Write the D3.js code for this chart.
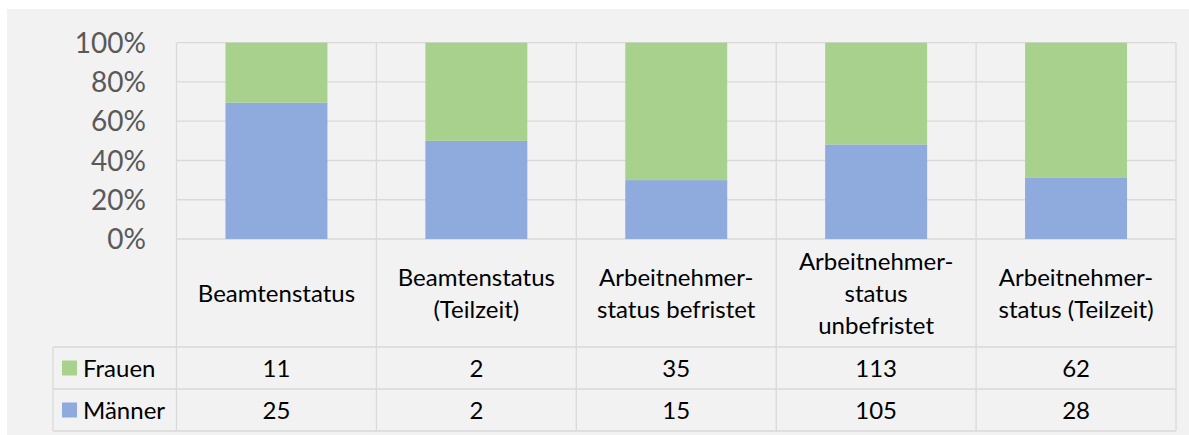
<!DOCTYPE html>
<html>
<head>
<meta charset="utf-8">
<script src="https://cdn.jsdelivr.net/npm/d3@7"></script>
<style>
  body { margin: 0; background: #fff; }
  svg text { font-family: Lato, "Open Sans", sans-serif; }
</style>
</head>
<body>
<svg id="chart" width="1189" height="435"></svg>
<script>
// data
var categories = [
    ["Beamtenstatus"],
    ["Beamtenstatus", "(Teilzeit)"],
    ["Arbeitnehmer-", "status befristet"],
    ["Arbeitnehmer-", "status", "unbefristet"],
    ["Arbeitnehmer-", "status (Teilzeit)"]
];
var seriesNames = ["Frauen", "Männer"];
var frauen = [11, 2, 35, 113, 62];
var maenner = [25, 2, 15, 105, 28];
var yTicks = [0, 0.2, 0.4, 0.6, 0.8, 1];
var colors = { "Männer": "#8faadc", "Frauen": "#a9d18e" };

var svg = d3.select("#chart");
var gridColor = "#d9d9d9";

// panel
svg.append("rect").attr("x", 7).attr("y", 9).attr("width", 1182).attr("height", 426).attr("fill", "#f2f2f2");

var plotL = 176.5, plotR = 1176, plotT = 42.7, plotB = 239;
var rowTop = 347, rowMid = 389, rowBottom = 431, legLeft = 53;
var fontSize = 24;

var x = d3.scaleBand().domain(d3.range(categories.length)).range([plotL, plotR]).paddingInner(0).paddingOuter(0);
var y = d3.scaleLinear().domain([0, 1]).range([plotB, plotT]);

var rows = categories.map(function (c, i) {
    return { idx: i, "Männer": maenner[i], "Frauen": frauen[i] };
});
var stack = d3.stack().keys(["Männer", "Frauen"]).offset(d3.stackOffsetExpand);
var layers = stack(rows);

// gridlines
svg.append("g").selectAll("line").data(yTicks).join("line")
    .attr("x1", plotL).attr("x2", plotR)
    .attr("y1", function (d) { return y(d); }).attr("y2", function (d) { return y(d); })
    .attr("stroke", gridColor).attr("stroke-width", 1.3);

// bars
var barW = x.bandwidth() * 0.51;
svg.append("g").selectAll("g").data(layers).join("g")
    .attr("fill", function (d) { return colors[d.key]; })
    .selectAll("rect").data(function (d) { return d; }).join("rect")
    .attr("x", function (d, i) { return x(i) + (x.bandwidth() - barW) / 2; })
    .attr("width", barW)
    .attr("y", function (d) { return y(d[1]); })
    .attr("height", function (d) { return y(d[0]) - y(d[1]); });

// y tick labels
svg.append("g").selectAll("text").data(yTicks).join("text")
    .attr("x", 146).attr("y", function (d) { return y(d); })
    .attr("dy", "0.36em")
    .attr("text-anchor", "end")
    .attr("font-size", 28).attr("fill", "#595959")
    .text(d3.format(".0%"));

// table lines
var tl = svg.append("g").attr("stroke", gridColor).attr("stroke-width", 1.3);
x.domain().concat([categories.length]).forEach(function (i) {
    var xx = i < categories.length ? x(i) : plotR;
    tl.append("line").attr("x1", xx).attr("x2", xx).attr("y1", plotT).attr("y2", rowBottom);
});
[rowTop, rowMid, rowBottom].forEach(function (yy) {
    tl.append("line").attr("x1", legLeft).attr("x2", plotR).attr("y1", yy).attr("y2", yy);
});
tl.append("line").attr("x1", legLeft).attr("x2", legLeft).attr("y1", rowTop).attr("y2", rowBottom);

// category labels
var lineH = 32;
var catMid = (plotB + rowTop) / 2;
svg.append("g").selectAll("text").data(categories).join("text")
    .attr("text-anchor", "middle").attr("font-size", fontSize).attr("fill", "#000")
    .each(function (lines, i) {
        var t = d3.select(this);
        var y0 = catMid - (lines.length - 1) * lineH / 2;
        lines.forEach(function (l, k) {
            t.append("tspan").attr("x", x(i) + x.bandwidth() / 2)
                .attr("y", y0 + k * lineH).attr("dy", "0.36em").text(l);
        });
    });

// data rows
var tableRows = [
    { name: "Frauen", values: frauen, y0: rowTop, y1: rowMid },
    { name: "Männer", values: maenner, y0: rowMid, y1: rowBottom }
];
tableRows.forEach(function (r) {
    var cy = (r.y0 + r.y1) / 2;
    svg.append("rect").attr("x", 62).attr("y", cy - 7.5).attr("width", 15).attr("height", 15)
        .attr("fill", colors[r.name]);
    svg.append("text").attr("x", 83).attr("y", cy).attr("dy", "0.36em")
        .attr("font-size", fontSize).attr("fill", "#000").text(r.name);
    svg.append("g").selectAll("text").data(r.values).join("text")
        .attr("x", function (d, i) { return x(i) + x.bandwidth() / 2; })
        .attr("y", cy).attr("dy", "0.36em")
        .attr("text-anchor", "middle").attr("font-size", fontSize).attr("fill", "#000")
        .text(function (d) { return d; });
});
</script>
</body>
</html>
